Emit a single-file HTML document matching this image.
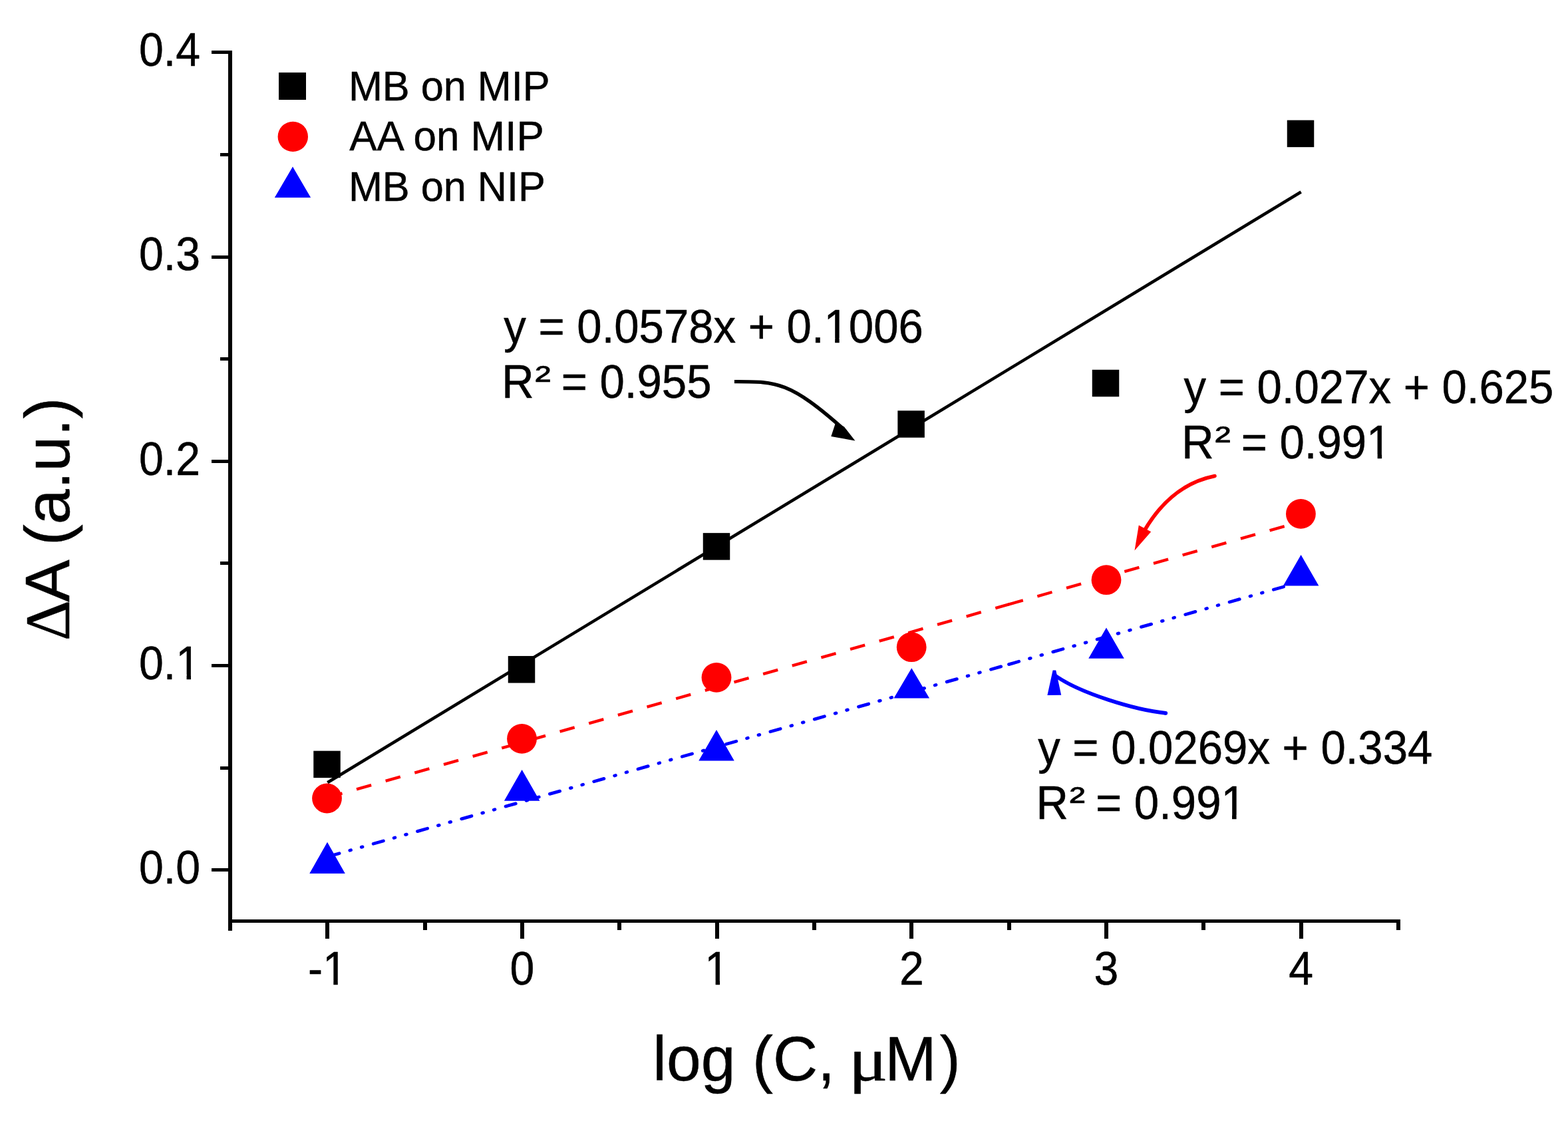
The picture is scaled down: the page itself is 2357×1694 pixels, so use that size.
<!DOCTYPE html>
<html><head><meta charset="utf-8"><title>Chart</title><style>html,body{margin:0;padding:0;background:#fff;overflow:hidden}</style></head><body>
<svg xmlns="http://www.w3.org/2000/svg" width="2357" height="1694" viewBox="0 0 2357 1694" style="display:block;font-family:'Liberation Sans',Arial,sans-serif">
<style>text{stroke:#000;stroke-width:0.5px;stroke-linejoin:round}</style>
<rect width="2357" height="1694" fill="#fff"/>
<line x1="492.34" y1="1176.23" x2="1955.69" y2="288.48" stroke="#000" stroke-width="4.6"/>
<line x1="492.34" y1="1198.65" x2="1516.50" y2="908.42" stroke="#f00" stroke-width="4.4" stroke-dasharray="23 22.37"/>
<line x1="1515.70" y1="908.64" x2="1955.69" y2="783.96" stroke="#f00" stroke-width="4.4" stroke-dasharray="23 22.37"/>
<line x1="492.34" y1="1287.73" x2="1516.50" y2="998.57" stroke="#00f" stroke-width="4.8" stroke-linecap="round" stroke-dasharray="15.8 16.4 1.8 16.3 1.8 16.8" stroke-dashoffset="-2.6"/>
<line x1="1516.50" y1="998.57" x2="1955.69" y2="874.58" stroke="#00f" stroke-width="4.8" stroke-linecap="round" stroke-dasharray="15.8 16.4 1.8 16.3 1.8 16.8"/>
<rect x="471.25" y="1128.65" width="40.5" height="40.5" fill="#000"/>
<rect x="763.75" y="986.05" width="40.5" height="40.5" fill="#000"/>
<rect x="1056.75" y="801.15" width="40.5" height="40.5" fill="#000"/>
<rect x="1349.35" y="617.25" width="40.5" height="40.5" fill="#000"/>
<rect x="1641.75" y="555.75" width="40.5" height="40.5" fill="#000"/>
<rect x="1934.75" y="180.65" width="40.5" height="40.5" fill="#000"/>
<circle cx="491.50" cy="1200.00" r="22.4" fill="#f00"/>
<circle cx="784.50" cy="1110.40" r="22.4" fill="#f00"/>
<circle cx="1077.00" cy="1018.40" r="22.4" fill="#f00"/>
<circle cx="1370.20" cy="972.70" r="22.4" fill="#f00"/>
<circle cx="1663.00" cy="871.70" r="22.4" fill="#f00"/>
<circle cx="1955.40" cy="772.40" r="22.4" fill="#f00"/>
<polygon points="492.00,1265.80 518.75,1313.00 465.25,1313.00" fill="#00f"/>
<polygon points="784.60,1157.00 811.35,1203.70 757.85,1203.70" fill="#00f"/>
<polygon points="1077.00,1097.00 1103.75,1143.60 1050.25,1143.60" fill="#00f"/>
<polygon points="1370.30,1004.20 1397.05,1049.60 1343.55,1049.60" fill="#00f"/>
<polygon points="1663.00,943.40 1689.75,989.70 1636.25,989.70" fill="#00f"/>
<polygon points="1955.60,834.00 1982.35,880.50 1928.85,880.50" fill="#00f"/>
<g fill="#000" shape-rendering="crispEdges"><rect x="343" y="76" width="6" height="1323"/><rect x="343" y="1382" width="1762" height="5"/><rect x="318" y="1305" width="31" height="5"/><rect x="318" y="998" width="31" height="5"/><rect x="318" y="691" width="31" height="5"/><rect x="318" y="384" width="31" height="5"/><rect x="318" y="76" width="31" height="5"/><rect x="331" y="1152" width="18" height="5"/><rect x="331" y="844" width="18" height="5"/><rect x="331" y="537" width="18" height="5"/><rect x="331" y="230" width="18" height="5"/><rect x="489" y="1382" width="6" height="29"/><rect x="782" y="1382" width="6" height="29"/><rect x="1075" y="1382" width="6" height="29"/><rect x="1367" y="1382" width="6" height="29"/><rect x="1660" y="1382" width="6" height="29"/><rect x="1953" y="1382" width="6" height="29"/><rect x="636" y="1382" width="6" height="16"/><rect x="928" y="1382" width="6" height="16"/><rect x="1221" y="1382" width="6" height="16"/><rect x="1514" y="1382" width="6" height="16"/><rect x="1806" y="1382" width="6" height="16"/><rect x="2099" y="1382" width="6" height="16"/><rect x="2392" y="1382" width="6" height="16"/></g>
<text x="301.00" y="1327.90" font-size="70" text-anchor="end" fill="#000" textLength="92.03" lengthAdjust="spacingAndGlyphs">0.0</text>
<text x="301.00" y="1020.72" font-size="70" text-anchor="end" fill="#000" textLength="92.03" lengthAdjust="spacingAndGlyphs">0.1</text>
<text x="301.00" y="713.54" font-size="70" text-anchor="end" fill="#000" textLength="92.03" lengthAdjust="spacingAndGlyphs">0.2</text>
<text x="301.00" y="406.36" font-size="70" text-anchor="end" fill="#000" textLength="92.03" lengthAdjust="spacingAndGlyphs">0.3</text>
<text x="301.00" y="99.18" font-size="70" text-anchor="end" fill="#000" textLength="92.03" lengthAdjust="spacingAndGlyphs">0.4</text>
<text x="492.34" y="1480.40" font-size="70" text-anchor="middle" fill="#000" textLength="58.86" lengthAdjust="spacingAndGlyphs">-1</text>
<text x="785.00" y="1480.40" font-size="70" text-anchor="middle" fill="#000" textLength="36.82" lengthAdjust="spacingAndGlyphs">0</text>
<text x="1077.68" y="1480.40" font-size="70" text-anchor="middle" fill="#000" textLength="36.82" lengthAdjust="spacingAndGlyphs">1</text>
<text x="1370.35" y="1480.40" font-size="70" text-anchor="middle" fill="#000" textLength="36.82" lengthAdjust="spacingAndGlyphs">2</text>
<text x="1663.02" y="1480.40" font-size="70" text-anchor="middle" fill="#000" textLength="36.82" lengthAdjust="spacingAndGlyphs">3</text>
<text x="1955.69" y="1480.40" font-size="70" text-anchor="middle" fill="#000" textLength="36.82" lengthAdjust="spacingAndGlyphs">4</text>
<text x="981.34" y="1624.40" font-size="94" fill="#000" textLength="273.62" lengthAdjust="spacingAndGlyphs">log (C,</text>
<text x="1275.7" y="1624.4" font-size="94" style="font-family:'Liberation Serif','Times New Roman',serif" textLength="58.8" lengthAdjust="spacingAndGlyphs">μ</text>
<text x="1330.28" y="1624.40" font-size="94" fill="#000" textLength="77.39" lengthAdjust="spacingAndGlyphs">M</text>
<text x="1412.76" y="1624.40" font-size="94" fill="#000" textLength="30.94" lengthAdjust="spacingAndGlyphs">)</text>
<g transform="translate(103.6,963.3) rotate(-90)"><text x="0" y="0" font-size="95" style="font-family:'Liberation Serif','Times New Roman',serif">Δ</text><text x="58.32" y="0.00" font-size="95" fill="#000" textLength="307.55" lengthAdjust="spacingAndGlyphs">A (a.u.)</text></g>
<rect x="419" y="109" width="41" height="41" fill="#000"/>
<circle cx="440.3" cy="205.4" r="22.7" fill="#f00"/>
<polygon points="440,250.6 467.1,296.9 412.8,296.9" fill="#00f"/>
<text x="523.88" y="150.80" font-size="63.4" fill="#000" textLength="302.68" lengthAdjust="spacingAndGlyphs">MB on MIP</text>
<text x="525.18" y="225.90" font-size="63.4" fill="#000" textLength="292.52" lengthAdjust="spacingAndGlyphs">AA on MIP</text>
<text x="523.88" y="301.70" font-size="63.4" fill="#000" textLength="295.90" lengthAdjust="spacingAndGlyphs">MB on NIP</text>
<text x="757.34" y="514.60" font-size="69.5" fill="#000" textLength="630.50" lengthAdjust="spacingAndGlyphs">y = 0.0578x + 0.1006</text>
<text x="754.30" y="597.80" font-size="69.5" fill="#000" textLength="48.46" lengthAdjust="spacingAndGlyphs">R</text>
<text x="804.25" y="589.80" font-size="58.5" textLength="23.77" lengthAdjust="spacingAndGlyphs">²</text>
<text x="843.74" y="597.80" font-size="69.5" fill="#000" textLength="225.74" lengthAdjust="spacingAndGlyphs">= 0.955</text>
<text x="1779.54" y="606.00" font-size="69.5" fill="#000" textLength="555.87" lengthAdjust="spacingAndGlyphs">y = 0.027x + 0.625</text>
<text x="1776.20" y="689.20" font-size="69.5" fill="#000" textLength="48.46" lengthAdjust="spacingAndGlyphs">R</text>
<text x="1826.15" y="681.20" font-size="58.5" textLength="23.77" lengthAdjust="spacingAndGlyphs">²</text>
<text x="1865.64" y="689.20" font-size="69.5" fill="#000" textLength="225.74" lengthAdjust="spacingAndGlyphs">= 0.991</text>
<text x="1560.14" y="1148.00" font-size="69.5" fill="#000" textLength="593.19" lengthAdjust="spacingAndGlyphs">y = 0.0269x + 0.334</text>
<text x="1557.60" y="1231.30" font-size="69.5" fill="#000" textLength="48.46" lengthAdjust="spacingAndGlyphs">R</text>
<text x="1607.55" y="1223.30" font-size="58.5" textLength="23.77" lengthAdjust="spacingAndGlyphs">²</text>
<text x="1647.04" y="1231.30" font-size="69.5" fill="#000" textLength="225.74" lengthAdjust="spacingAndGlyphs">= 0.991</text>
<path d="M1103.9,573.6 C1166.3,573.6 1186.1,572.1 1268,645" fill="none" stroke="#000" stroke-width="5.4"/>
<polygon points="1255.7,636.6 1268.7,641.2 1285.4,662.5 1249.3,656.1" fill="#000"/>
<path d="M1826,715.5 C1772.3,726.1 1739.1,765.3 1720,798" fill="none" stroke="#f00" stroke-width="5.6" stroke-linecap="round"/>
<polygon points="1711.8,789.6 1730.2,799.2 1705.5,827.6" fill="#f00"/>
<path d="M1752.3,1071.9 C1707.0,1067.1 1624.0,1042.6 1585.5,1015" fill="none" stroke="#00f" stroke-width="5.6"/>
<circle cx="1752.3" cy="1071.9" r="2.8" fill="#00f"/>
<polygon points="1582.6,1007.4 1587.2,1007.4 1595.2,1044.8 1574.4,1045.1" fill="#00f"/>
<g fill="#fff"><rect x="268" y="1014" width="12.53" height="8"/><rect x="286.98" y="1014" width="12.02" height="8"/><rect x="489" y="1474" width="12.30" height="8"/><rect x="507.75" y="1474" width="11.25" height="8"/><rect x="1063" y="1474" width="12.61" height="8"/><rect x="1082.06" y="1474" width="11.94" height="8"/><rect x="1243" y="508" width="12.14" height="8"/><rect x="1261.67" y="508" width="11.33" height="8"/><rect x="2058" y="683" width="12.64" height="8"/><rect x="2077.17" y="683" width="11.83" height="8"/><rect x="1840" y="1225" width="12.04" height="8"/><rect x="1858.57" y="1225" width="11.43" height="8"/></g>
</svg>
</body></html>
